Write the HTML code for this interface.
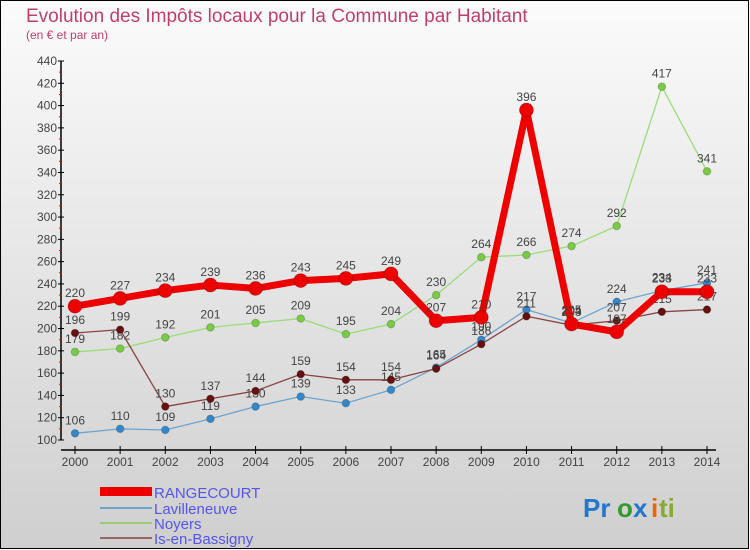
<!DOCTYPE html>
<html><head><meta charset="utf-8"><style>
body{margin:0;width:750px;height:550px;overflow:hidden;font-family:"Liberation Sans",sans-serif}
svg{display:block}
</style></head><body>
<svg width="750" height="550" xmlns="http://www.w3.org/2000/svg">
<defs><linearGradient id="bg" x1="0" y1="0" x2="0" y2="1"><stop offset="0" stop-color="#fbfbfb"/><stop offset="1" stop-color="#cfcfcf"/></linearGradient></defs>
<rect x="0.5" y="0.5" width="748" height="548" fill="url(#bg)" stroke="#000"/>
<text x="26" y="22" font-size="19" fill="#c0406a">Evolution des Impôts locaux pour la Commune par Habitant</text>
<text x="26" y="39" font-size="12" fill="#c0406a">(en € et par an)</text>
<g id="axes"></g>
<g id="series"></g>
<g id="legend">
<rect x="100" y="487" width="52" height="9" fill="#ee0000"/>
<text x="154" y="498" font-size="15" fill="#5555ee">RANGECOURT</text>
<rect x="100" y="507" width="52" height="2" fill="#6fa3cf"/>
<text x="154" y="514" font-size="15" fill="#5555ee">Lavilleneuve</text>
<rect x="100" y="522" width="52" height="2" fill="#99cc77"/>
<text x="154" y="529" font-size="15" fill="#5555ee">Noyers</text>
<rect x="100" y="537" width="52" height="2" fill="#996666"/>
<text x="154" y="544" font-size="15" fill="#5555ee">Is-en-Bassigny</text>
</g>
<g font-size="26" font-weight="bold">
<text x="583" y="517" fill="#2277cc">Pr</text><text x="617" y="517" fill="#339933">o</text><text x="633" y="517" fill="#2277cc">x</text><text x="651" y="517" fill="#ee6600">i</text><text x="659" y="517" fill="#88aa33">ti</text>
</g>
</svg>
<script>
const years=[2000,2001,2002,2003,2004,2005,2006,2007,2008,2009,2010,2011,2012,2013,2014];
const yTicks=[100,120,140,160,180,200,220,240,260,280,300,320,340,360,380,400,420,440];
const rangecourt=[220,227,234,239,236,243,245,249,207,210,396,204,197,233,233];
const lavilleneuve=[106,110,109,119,130,139,133,145,165,190,217,205,224,234,241];
const noyers=[179,182,192,201,205,209,195,204,230,264,266,274,292,417,341];
const isenbassigny=[196,199,130,137,144,159,154,154,164,186,211,203,207,215,217];
const NS="http://www.w3.org/2000/svg";
const x=i=>75+i*(707-75)/14;
const y=v=>440-(v-100)*(379/340);
function mk(tag,attrs,parent){const e=document.createElementNS(NS,tag);for(const k in attrs)e.setAttribute(k,attrs[k]);parent.appendChild(e);return e;}
const ax=document.getElementById('axes');
let l=mk('line',{x1:61,y1:y(440),x2:61,y2:440,stroke:'#000','stroke-width':1.5},ax);


l=mk('line',{x1:61,y1:450,x2:716,y2:450,stroke:'#000','stroke-width':1.5},ax);


yTicks.forEach((t,i)=>{
  mk('line',{x1:58,y1:y(t),x2:64,y2:y(t),stroke:'#000'},ax);
  if(i<yTicks.length-1)mk('line',{x1:59,y1:y(t+10),x2:62,y2:y(t+10),stroke:'#e00'},ax);
  const tx=mk('text',{x:57,y:y(t)+4,'font-size':12,fill:'#444','text-anchor':'end'},ax);
  tx.textContent=t;
  
  
});
years.forEach((yr,i)=>{
  mk('line',{x1:x(i),y1:446,x2:x(i),y2:454,stroke:'#000'},ax);
  const tx=mk('text',{x:x(i),y:466,'font-size':12,fill:'#444','text-anchor':'middle'},ax);
  tx.textContent=yr;
  
  
});
const sg=document.getElementById('series');
function draw(vals,color,pt,w,r,name){
  const g=mk('g',{},sg);
  
  
  const p=mk('polyline',{points:vals.map((v,i)=>x(i)+','+y(v)).join(' '),fill:'none',stroke:color,'stroke-width':w,'stroke-linejoin':'round'},g);
  
  
  vals.forEach((v,i)=>{
    const c=mk('circle',{cx:x(i),cy:y(v),r:r,fill:pt,stroke:'rgba(0,0,0,0.2)'},g);
    
    
    const t=mk('text',{x:x(i),y:y(v)-9,'font-size':12,fill:'#444','text-anchor':'middle'},g);
    t.textContent=v;
    
    
  });
}
draw(lavilleneuve,'#6fa3cf','#3388cc',1.3,3.8,'lavilleneuve');
draw(noyers,'#99dd77','#77cc44',1.3,3.8,'noyers');
draw(isenbassigny,'#884444','#661111',1.3,3.8,'is-en-bassigny');
draw(rangecourt,'#ee0000','#ee0000',7,7,'rangecourt');
</script>
</body></html>
